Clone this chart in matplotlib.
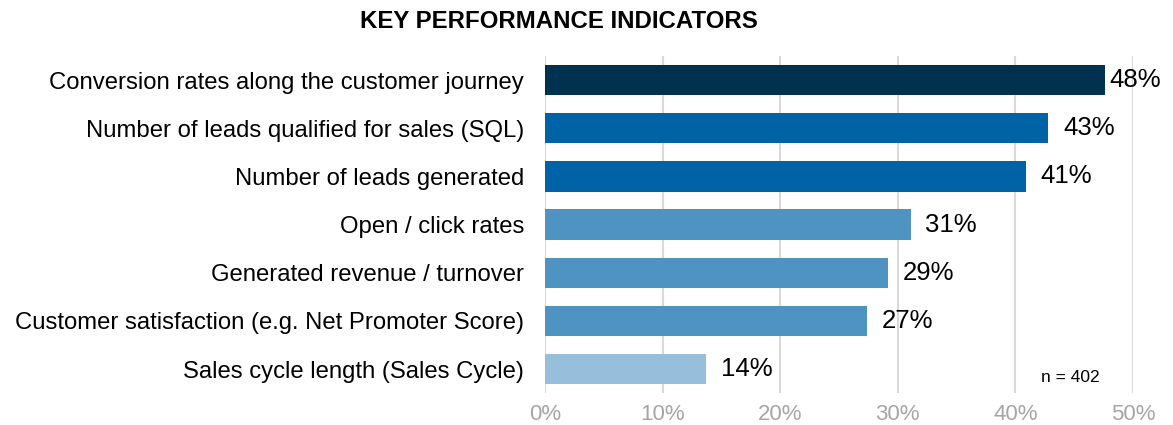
import matplotlib.pyplot as plt

plt.rcParams['font.family'] = ['Liberation Sans', 'DejaVu Sans']

# ==================== Data ====================
categories = [
    "Conversion rates along the customer journey",
    "Number of leads qualified for sales (SQL)",
    "Number of leads generated",
    "Open / click rates",
    "Generated revenue / turnover",
    "Customer satisfaction (e.g. Net Promoter Score)",
    "Sales cycle length (Sales Cycle)",
]
values = [47.6, 42.8, 40.9, 31.1, 29.2, 27.4, 13.7]
labels = ["48%", "43%", "41%", "31%", "29%", "27%", "14%"]
colors = ["#00314F", "#0063A6", "#0063A6", "#4F93C2", "#4F93C2", "#4F93C2", "#97BEDB"]
xticks = [0, 10, 20, 30, 40, 50]

fig = plt.figure(figsize=(11.73, 4.25), dpi=100)
ax = fig.add_axes([0.4646, 0.075, 0.5013, 0.793])

ypos = list(range(len(categories)))
ax.barh(ypos, values, height=0.63, color=colors, zorder=3)
for y, v, lab in zip(ypos, values, labels):
    off = 0.4 if v > 45 else 1.25  # last label squeezed at the right edge
    ax.text(v + off, y, lab, va='center', ha='left', fontsize=18.5, color='black')

ax.set_ylim(len(categories) - 0.5, -0.5)
ax.set_xlim(0, 50)
ax.set_yticks(ypos)
ax.set_yticklabels(categories, fontsize=17.2)
ax.set_xticks(xticks)
ax.set_xticklabels([f"{t}%" for t in xticks], fontsize=16, color='#A6A6A6')
ax.tick_params(axis='y', length=0, pad=15)
ax.tick_params(axis='x', length=0, pad=8)
ax.grid(axis='x', color='#D9D9D9', linewidth=1.5, zorder=0)
for s in ax.spines.values():
    s.set_visible(False)

ax.text(0.944, 0.045, "n = 402", transform=ax.transAxes, ha='right', va='center', fontsize=12.5)

fig.text(559 / 1173, 1 - 22 / 425, "KEY PERFORMANCE INDICATORS", ha='center', va='center',
         fontsize=17.3, fontweight='bold')

plt.savefig("out.png", dpi=100, facecolor='white')
